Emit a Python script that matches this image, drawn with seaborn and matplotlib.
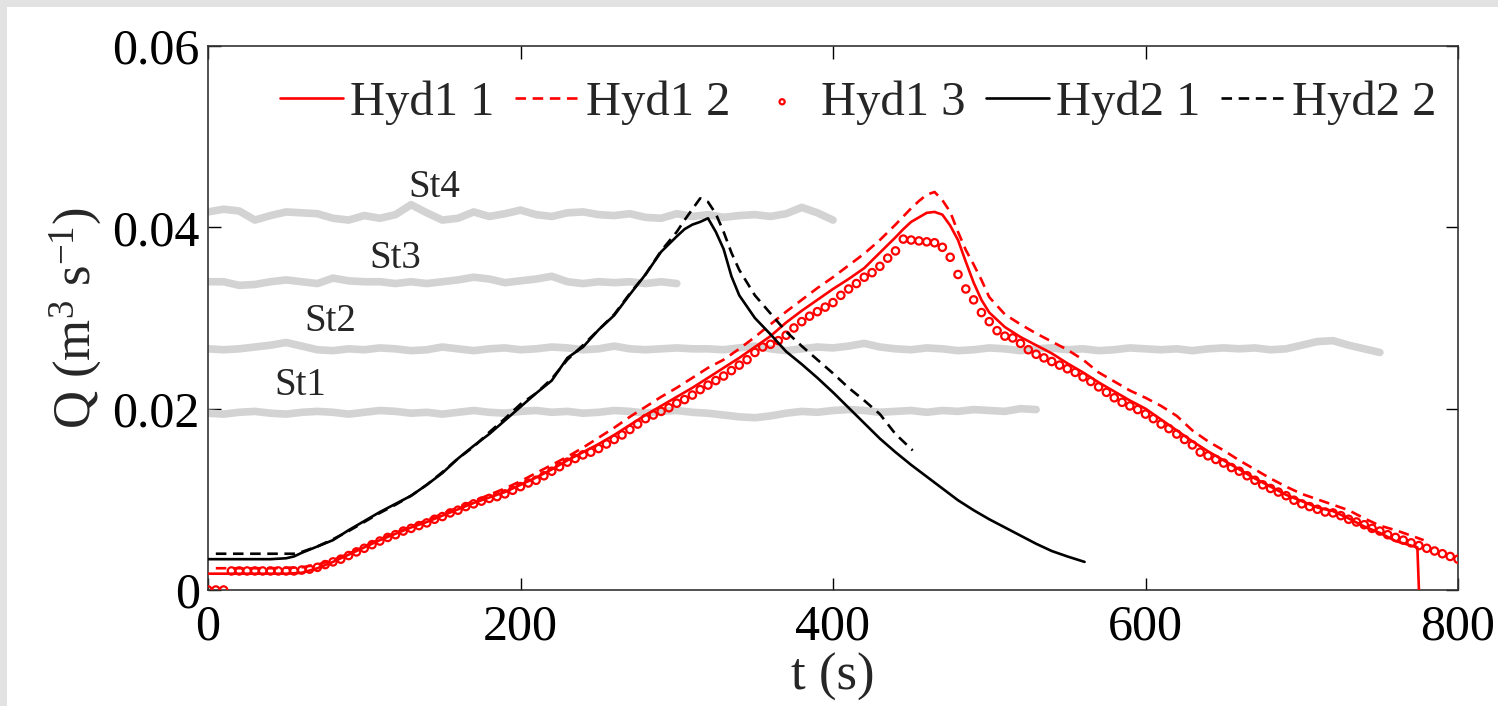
import numpy as np
import pandas as pd
import matplotlib
matplotlib.use("Agg")
import matplotlib.pyplot as plt
import seaborn as sns
from matplotlib.patches import Rectangle

# ---- data (Q in 1e-3 m3/s) ----
# gray reference levels (stations)
st_t4 = np.arange(0, 401, 10)
st_q4 = [41.7, 42.0, 41.8, 40.8, 41.3, 41.7, 41.6, 41.5, 41.0, 40.8, 41.3,
         41.0, 41.4, 42.5, 41.6, 40.8, 41.0, 41.7, 41.2, 41.5, 41.9, 41.4,
         41.2, 41.6, 41.7, 41.4, 41.3, 41.5, 41.1, 41.0, 41.5, 41.2, 41.4,
         41.1, 41.3, 41.4, 41.2, 41.5, 42.2, 41.6, 40.8]
st_t3 = np.arange(0, 301, 10)
st_q3 = [34.0, 34.0, 33.6, 33.7, 34.0, 34.2, 34.0, 33.8, 34.4, 34.1, 34.0,
         34.0, 33.8, 34.0, 33.8, 34.0, 34.2, 34.5, 34.3, 33.9, 34.1, 34.3,
         34.6, 34.0, 33.8, 34.0, 33.9, 34.0, 33.8, 34.0, 33.8]
st_t2 = np.arange(0, 751, 10)
st_q2 = [26.6, 26.5, 26.6, 26.8, 27.0, 27.3, 26.9, 26.5, 26.4, 26.6, 26.5,
         26.7, 26.6, 26.4, 26.5, 26.8, 26.6, 26.4, 26.6, 26.7, 26.5, 26.6,
         26.8, 26.7, 26.5, 26.6, 26.9, 26.6, 26.5, 26.6, 26.7, 26.6, 26.6,
         26.5, 26.7, 26.9, 26.6, 26.4, 26.6, 26.8, 26.7, 26.9, 27.2, 26.8,
         26.6, 26.5, 26.7, 26.6, 26.4, 26.5, 26.7, 26.6, 26.4, 26.6, 26.7,
         26.5, 26.6, 26.4, 26.5, 26.7, 26.6, 26.5, 26.6, 26.4, 26.6, 26.7,
         26.6, 26.7, 26.5, 26.6, 27.0, 27.4, 27.5, 27.0, 26.6, 26.2]
st_t1 = np.arange(0, 531, 10)
st_q1 = [19.5, 19.4, 19.6, 19.7, 19.5, 19.4, 19.6, 19.7, 19.6, 19.4, 19.6,
         19.8, 19.7, 19.5, 19.6, 19.4, 19.6, 19.8, 19.6, 19.5, 19.7, 19.8,
         19.6, 19.7, 19.5, 19.6, 19.8, 19.7, 19.5, 19.7, 19.8, 19.6, 19.5,
         19.3, 19.1, 19.0, 19.2, 19.5, 19.7, 19.6, 19.8, 19.9, 19.8, 19.6,
         19.7, 19.8, 19.6, 19.8, 19.7, 19.9, 19.8, 19.7, 20.0, 19.9]
st_names = ["St1", "St2", "St3", "St4"]
st_label_t = [59, 78, 120, 145]
st_label_q = [22.5, 29.6, 36.6, 44.4]

# Hyd1 1 (red solid)
h11_t = [0, 10, 20, 30, 40, 50, 60, 70, 80, 90, 100, 110, 120, 130, 140, 150,
         160, 170, 180, 190, 200, 210, 220, 230, 240, 250, 260, 270, 280, 290,
         300, 310, 320, 330, 340, 350, 360, 370, 380, 390, 400, 410, 420, 430,
         440, 445, 450, 455, 460, 465, 470, 475, 480, 485, 490, 495, 500, 510,
         520, 530, 540, 550, 560, 570, 580, 590, 600, 610, 620, 630, 640, 650,
         660, 670, 680, 690, 700, 710, 720, 730, 740, 750, 760, 770, 774, 775]
h11_q = [1.8, 1.8, 1.8, 1.8, 1.8, 1.8, 1.9, 2.4, 3.1, 3.9, 4.7, 5.5, 6.2, 6.9,
         7.5, 8.2, 8.9, 9.6, 10.2, 10.8, 11.6, 12.4, 13.3, 14.3, 15.2, 16.1,
         17.1, 18.2, 19.3, 20.3, 21.3, 22.3, 23.4, 24.5, 25.6, 26.8, 28.0,
         29.5, 30.8, 32.0, 33.2, 34.3, 35.5, 37.2, 38.9, 39.8, 40.6, 41.1,
         41.6, 41.7, 41.4, 40.2, 38.6, 36.2, 33.9, 32.0, 30.6, 29.0, 27.9,
         27.0, 26.1, 25.0, 24.0, 22.9, 21.9, 20.9, 20.0, 18.8, 17.6, 16.4,
         15.3, 14.3, 13.3, 12.3, 11.4, 10.5, 9.8, 9.1, 8.7, 7.9, 7.0, 6.3,
         5.4, 4.9, 4.7, 0.0]

# Hyd1 2 (red dashed)
h12_t = [5, 20, 40, 60, 70, 80, 90, 100, 110, 120, 130, 140, 150, 160, 170,
         180, 190, 200, 210, 220, 230, 240, 250, 260, 270, 280, 290, 300, 310,
         320, 330, 340, 350, 360, 370, 380, 390, 400, 410, 420, 430, 440, 450,
         455, 460, 465, 470, 475, 480, 485, 490, 495, 500, 510, 520, 530, 540,
         550, 560, 570, 580, 590, 600, 610, 620, 630, 640, 650, 660, 670, 680,
         690, 700, 710, 720, 730, 740, 750, 760, 770, 778]
h12_q = [2.4, 2.4, 2.4, 2.5, 2.8, 3.3, 4.0, 4.8, 5.6, 6.3, 7.0, 7.7, 8.4, 9.1,
         9.8, 10.5, 11.2, 12.0, 12.9, 13.8, 14.7, 15.7, 16.8, 17.9, 19.1,
         20.2, 21.3, 22.3, 23.4, 24.5, 25.4, 26.6, 27.9, 29.3, 30.7, 32.0,
         33.3, 34.5, 35.8, 37.1, 38.6, 40.3, 42.1, 42.9, 43.6, 43.9, 43.0,
         41.7, 39.5, 37.5, 35.9, 34.2, 32.3, 30.4, 29.3, 28.3, 27.4, 26.5,
         25.4, 24.0, 23.0, 22.0, 21.2, 20.3, 19.2, 17.6, 16.4, 15.4, 14.3,
         13.3, 12.3, 11.4, 10.6, 10.0, 9.4, 8.8, 7.9, 7.1, 6.6, 6.0, 5.5]

# Hyd1 3 (red open circles), every 5 s
h13_t = np.arange(0, 801, 5)
h13_q = [0.0, 0.0, 0.0, 2.1, 2.1, 2.1, 2.1, 2.1, 2.1, 2.1, 2.1, 2.1, 2.2, 2.3,
         2.5, 2.8, 3.1, 3.4, 3.8, 4.2, 4.6, 5.0, 5.4, 5.8, 6.1, 6.5, 6.8, 7.1,
         7.4, 7.8, 8.1, 8.5, 8.8, 9.2, 9.5, 9.8, 10.1, 10.3, 10.6, 11.0, 11.4,
         11.8, 12.1, 12.6, 13.1, 13.6, 14.1, 14.5, 14.9, 15.2, 15.6, 16.1,
         16.6, 17.1, 17.7, 18.3, 18.9, 19.3, 19.7, 20.1, 20.6, 21.0, 21.5,
         22.1, 22.6, 23.1, 23.6, 24.2, 24.8, 25.4, 26.2, 26.8, 27.1, 27.5,
         28.1, 28.9, 29.6, 30.2, 30.7, 31.2, 31.7, 32.5, 33.2, 33.8, 34.5,
         35.0, 35.7, 36.6, 37.4, 38.7, 38.6, 38.5, 38.4, 38.3, 37.8, 36.7,
         34.8, 33.2, 32.0, 30.6, 29.6, 28.6, 28.0, 27.8, 27.2, 26.5, 26.0,
         25.6, 25.2, 24.8, 24.4, 24.0, 23.5, 23.0, 22.4, 21.8, 21.2, 20.7,
         20.3, 19.9, 19.4, 18.9, 18.3, 17.8, 17.2, 16.6, 16.0, 15.2, 14.8,
         14.4, 14.0, 13.5, 13.1, 12.6, 12.1, 11.6, 11.2, 10.8, 10.4, 9.9, 9.5,
         9.2, 8.9, 8.6, 8.5, 8.2, 7.8, 7.5, 7.2, 6.8, 6.5, 6.1, 5.8, 5.5, 5.2,
         4.9, 4.6, 4.3, 4.0, 3.7, 3.4]

# Hyd2 1 (black solid)
h21_t = [0, 10, 20, 30, 40, 50, 55, 60, 70, 80, 90, 100, 110, 120, 130, 140,
         150, 160, 170, 180, 190, 200, 210, 220, 230, 240, 250, 260, 270, 280,
         290, 300, 305, 310, 315, 320, 325, 330, 335, 340, 350, 360, 370, 380,
         390, 400, 410, 420, 430, 440, 450, 460, 470, 480, 490, 500, 510, 520,
         530, 540, 550, 561]
h21_q = [3.4, 3.4, 3.4, 3.4, 3.4, 3.5, 3.7, 4.1, 4.8, 5.5, 6.6, 7.6, 8.6, 9.5,
         10.4, 11.6, 12.9, 14.5, 15.9, 17.2, 18.7, 20.2, 21.7, 23.1, 25.6,
         26.8, 28.7, 30.3, 32.6, 34.8, 37.3, 39.0, 39.8, 40.3, 40.6, 41.0,
         39.5, 37.6, 34.6, 32.5, 30.0, 28.2, 26.3, 24.9, 23.4, 21.8, 20.1,
         18.4, 16.7, 15.2, 13.8, 12.5, 11.2, 9.9, 8.8, 7.8, 6.9, 6.0, 5.1,
         4.3, 3.7, 3.1]

# Hyd2 2 (black dashed)
h22_t = [5, 20, 40, 55, 60, 70, 80, 90, 100, 110, 120, 130, 140, 150, 160,
         170, 180, 190, 200, 210, 220, 230, 240, 250, 260, 270, 280, 290, 300,
         305, 310, 315, 320, 325, 330, 335, 340, 350, 360, 370, 380, 390, 400,
         410, 420, 430, 440, 451]
h22_q = [4.0, 4.0, 4.0, 4.0, 4.2, 4.8, 5.6, 6.5, 7.5, 8.5, 9.4, 10.4, 11.6,
         13.0, 14.5, 15.8, 17.4, 18.9, 20.5, 21.7, 23.3, 25.4, 27.0, 28.7,
         30.4, 32.7, 34.8, 37.4, 39.5, 40.8, 42.0, 43.2, 42.8, 41.5, 39.5,
         37.2, 35.3, 32.5, 30.5, 28.5, 26.9, 25.4, 23.9, 22.3, 20.9, 19.4,
         17.2, 15.4]

x_ticks = [0, 200, 400, 600, 800]
y_ticks = [0, 0.02, 0.04, 0.06]
y_ticklabels = ["0", "0.02", "0.04", "0.06"]

# ---- style ----
sns.set_theme(style="ticks")
plt.rcParams["font.family"] = ["Liberation Serif", "DejaVu Serif"]
plt.rcParams["mathtext.default"] = "regular"

fig = plt.figure(figsize=(14.98, 7.06), dpi=100)
fig.patch.set_facecolor("#e2e2e2")
fig.patches.append(Rectangle((7 / 1498, 0), 1, (706 - 7) / 706,
                             transform=fig.transFigure, facecolor="white",
                             edgecolor="none", zorder=-10))
ax = fig.add_axes([208 / 1498, 116 / 706, 1250 / 1498, 544 / 706])
ax.set_zorder(2)
ax.set_facecolor("white")

gray = "#d3d3d3"
for t, q in [(st_t1, st_q1), (st_t2, st_q2), (st_t3, st_q3), (st_t4, st_q4)]:
    sns.lineplot(x=t, y=np.array(q) / 1000, color=gray, linewidth=5.5,
                 ax=ax, zorder=1)

for name, tt, qq in zip(st_names, st_label_t, st_label_q):
    ax.text(tt, qq / 1000, name, fontsize=28, ha="center", va="center",
            zorder=2)

lw = 1.9
dash = (0, (4, 2.5))
sns.lineplot(x=h11_t, y=np.array(h11_q) / 1000, color="red", linewidth=lw,
             label="Hyd1 1", ax=ax, zorder=3)
sns.lineplot(x=h12_t, y=np.array(h12_q) / 1000, color="red", linewidth=lw,
             linestyle=dash, label="Hyd1 2", ax=ax, zorder=3)
sns.scatterplot(x=h13_t, y=np.array(h13_q) / 1000, marker="o", s=28,
                facecolor="none", edgecolor="red", linewidth=1.6,
                label="Hyd1 3", ax=ax, zorder=3)
sns.lineplot(x=h21_t, y=np.array(h21_q) / 1000, color="black", linewidth=lw,
             label="Hyd2 1", ax=ax, zorder=3)
sns.lineplot(x=h22_t, y=np.array(h22_q) / 1000, color="black", linewidth=lw,
             linestyle=dash, label="Hyd2 2", ax=ax, zorder=3)

ax.set_xlim(0, 800)
ax.set_ylim(0, 0.06)
ax.set_xticks(x_ticks)
ax.set_yticks(y_ticks)
ax.set_yticklabels(y_ticklabels)
ax.tick_params(direction="in", length=9, width=1, top=True, right=True,
               labelsize=36, colors="black")
ax.tick_params(axis="x", pad=10)
ax.tick_params(axis="y", pad=6)
for sp in ax.spines.values():
    sp.set_visible(True)
    sp.set_color("#333333")
    sp.set_linewidth(1.2)

ax.set_xlabel("t (s)", fontsize=38, labelpad=2)
ax.set_ylabel("Q (m$^3$ s$^{-1}$)", fontsize=38, labelpad=6)

leg = ax.legend(loc="upper center", bbox_to_anchor=(0.52, 1.0), ncol=5,
                frameon=False, fontsize=35, handlelength=1.3,
                handletextpad=0.15, columnspacing=0.42, borderpad=0.2,
                markerscale=0.7)

fig.savefig("out.png", dpi=100, facecolor=fig.get_facecolor())
